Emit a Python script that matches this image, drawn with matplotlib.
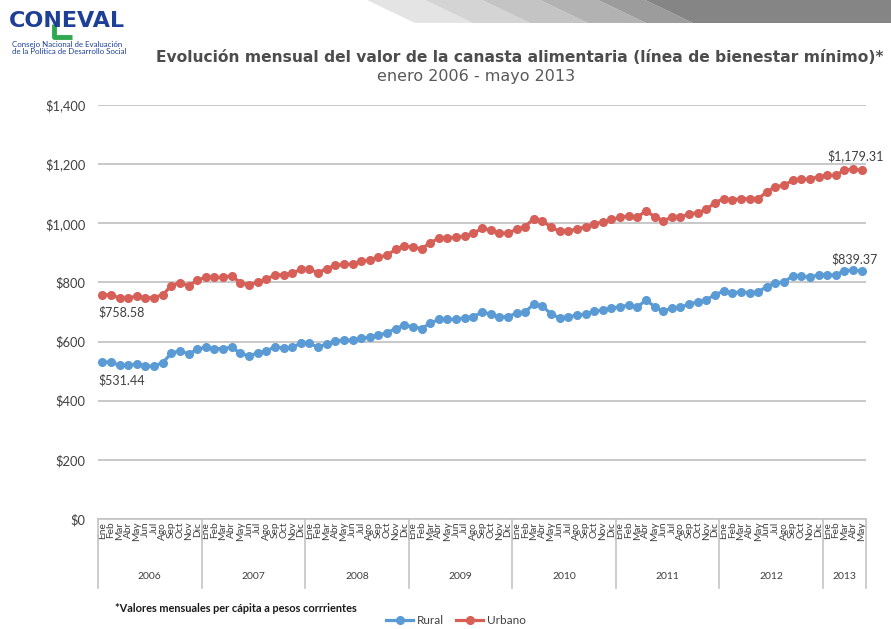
import matplotlib.pyplot as plt
from matplotlib.patches import Polygon
import numpy as np

# monthly values, enero 2006 - mayo 2013 (pesos corrientes)
meses = ['Ene', 'Feb', 'Mar', 'Abr', 'May', 'Jun', 'Jul', 'Ago', 'Sep', 'Oct', 'Nov', 'Dic']
anios = ['2006', '2007', '2008', '2009', '2010', '2011', '2012', '2013']
meses_por_anio = [12, 12, 12, 12, 12, 12, 12, 5]

rural = [
    531.44, 530, 520, 520, 524, 517, 517, 529, 560, 569, 558, 574,   # 2006
    581, 576, 576, 581, 560, 551, 562, 567, 583, 578, 581, 594,      # 2007
    594, 581, 592, 602, 605, 605, 612, 614, 621, 630, 644, 655,      # 2008
    650, 644, 662, 675, 675, 675, 680, 684, 700, 693, 684, 684,      # 2009
    696, 700, 727, 720, 693, 680, 684, 689, 693, 702, 707, 714,      # 2010
    718, 723, 716, 741, 718, 702, 714, 716, 727, 734, 741, 759,      # 2011
    770, 765, 768, 765, 768, 786, 799, 801, 822, 822, 817, 826,      # 2012
    826, 825, 840, 842, 839.37,                                      # 2013
]
urbano = [
    758.58, 758, 747, 747, 754, 747, 749, 758, 789, 799, 788, 808,   # 2006
    817, 817, 817, 822, 799, 792, 801, 810, 826, 826, 831, 844,      # 2007
    844, 833, 847, 858, 861, 862, 871, 876, 885, 892, 912, 923,      # 2008
    919, 914, 934, 950, 950, 953, 957, 966, 983, 977, 968, 966,      # 2009
    980, 989, 1016, 1009, 986, 973, 975, 980, 989, 998, 1004, 1013,  # 2010
    1020, 1025, 1020, 1043, 1022, 1009, 1020, 1022, 1031, 1036, 1047, 1070,  # 2011
    1083, 1079, 1083, 1083, 1083, 1106, 1124, 1128, 1146, 1149, 1149, 1158,  # 2012
    1162, 1162, 1180, 1183, 1179.31,                                 # 2013
]

BLUE = '#5b9bd5'
RED = '#d65f58'
GRID = '#c4c4c4'
TXT = '#404040'

plt.rcParams['font.family'] = ['Lato', 'DejaVu Sans']

W, H = 891, 629
fig = plt.figure(figsize=(W / 100, H / 100), dpi=100)

# decorations (banner, logo) on an overlay in pixel coordinates
deco = fig.add_axes([0, 0, 1, 1])
deco.set_xlim(0, W)
deco.set_ylim(H, 0)
deco.axis('off')
band_x = [367, 425, 482, 540, 598, 645, 960]
band_c = ['#e4e4e4', '#d4d4d4', '#c4c4c4', '#b2b2b2', '#9c9c9c', '#858585']
for i, c in enumerate(band_c):
    x0, x1 = band_x[i], band_x[i + 1]
    deco.add_patch(Polygon([(x0, 0), (x1, 0), (x1 + 48, 23), (x0 + 48, 23)],
                           closed=True, color=c, lw=0))
deco.plot([54, 54, 72], [24, 37, 37], color='#2fa84f', lw=3.5, solid_capstyle='butt')
deco.text(9, 21, 'CONEVAL', fontsize=16, fontweight='heavy', color='#1d3f96',
          family='DejaVu Sans', va='center', ha='left')
deco.text(12, 44, 'Consejo Nacional de Evaluación', fontsize=5.7, color='#1d3f96', va='center')
deco.text(12, 51, 'de la Política de Desarrollo Social', fontsize=5.7, color='#1d3f96', va='center')

fig.text(520 / W, 1 - 57 / H,
         'Evolución mensual del valor de la canasta alimentaria (línea de bienestar mínimo)*',
         ha='center', va='center', fontsize=11.2, fontweight='bold', color='#4d4d4d',
         family='DejaVu Sans')
fig.text(476 / W, 1 - 77 / H, 'enero 2006 - mayo 2013', ha='center', va='center',
         fontsize=11.5, color='#595959', family='DejaVu Sans')

# main chart
ax = fig.add_axes([98 / W, 1 - 519 / H, (866 - 98) / W, (519 - 105) / H])
x = np.arange(len(urbano))
ax.plot(x, rural, color=BLUE, lw=2.3, marker='o', ms=5.5, label='Rural')
ax.plot(x, urbano, color=RED, lw=2.3, marker='o', ms=5.5, label='Urbano')

ax.set_ylim(0, 1400)
yt = list(range(0, 1401, 200))
ax.set_yticks(yt)
ax.set_yticklabels([f'${v:,}' for v in yt], fontsize=9.3, color=TXT)
ax.yaxis.grid(True, color=GRID, lw=1.3)
ax.set_axisbelow(True)

ax.set_xlim(-0.5, len(x) - 0.5)
etiquetas = [meses[i % 12] for i in range(len(x))]
ax.set_xticks(x)
ax.set_xticklabels(etiquetas, rotation=90, fontsize=7.3, color=TXT)
ax.tick_params(axis='both', length=0)
ax.tick_params(axis='x', pad=2)
ax.tick_params(axis='y', pad=9)
for s in ['top', 'right', 'left']:
    ax.spines[s].set_visible(False)
ax.spines['bottom'].set_color(GRID)
ax.spines['bottom'].set_linewidth(1.2)

# year separators and year labels
trans = ax.get_xaxis_transform()
limites = np.concatenate([[0], np.cumsum(meses_por_anio)]) - 0.5
for b in limites:
    ax.plot([b, b], [0, -0.167], transform=trans, clip_on=False, color=GRID, lw=1.2)
for i, a in enumerate(anios):
    ax.text((limites[i] + limites[i + 1]) / 2, -0.14, a, transform=trans,
            ha='center', va='center', fontsize=7.5, color=TXT)

# data labels at the ends
ax.annotate(f'${urbano[0]:,.2f}', (0, urbano[0]), xytext=(-4, -18), textcoords='offset pixels',
            ha='left', va='center', fontsize=9, color=TXT)
ax.annotate(f'${rural[0]:,.2f}', (0, rural[0]), xytext=(-4, -18), textcoords='offset pixels',
            ha='left', va='center', fontsize=9, color=TXT)
ax.annotate(f'${urbano[-1]:,.2f}', (x[-1], urbano[-1]), xytext=(-6, 15), textcoords='offset pixels',
            ha='center', va='center', fontsize=9, color=TXT, annotation_clip=False)
ax.annotate(f'${rural[-1]:,.2f}', (x[-1], rural[-1]), xytext=(-7, 12), textcoords='offset pixels',
            ha='center', va='center', fontsize=9, color=TXT, annotation_clip=False)

fig.text(115 / W, 1 - 608 / H, '*Valores mensuales per cápita a pesos corrrientes',
         ha='left', va='center', fontsize=7.9, fontweight='bold', color='#1a1a1a')
fig.legend(loc='center', bbox_to_anchor=(456 / W, 1 - 621 / H), ncol=2, frameon=False,
           fontsize=8.5, handlelength=2.3, columnspacing=1.0, handletextpad=0.3,
           labelcolor=TXT)

fig.savefig('out.png', dpi=100)
